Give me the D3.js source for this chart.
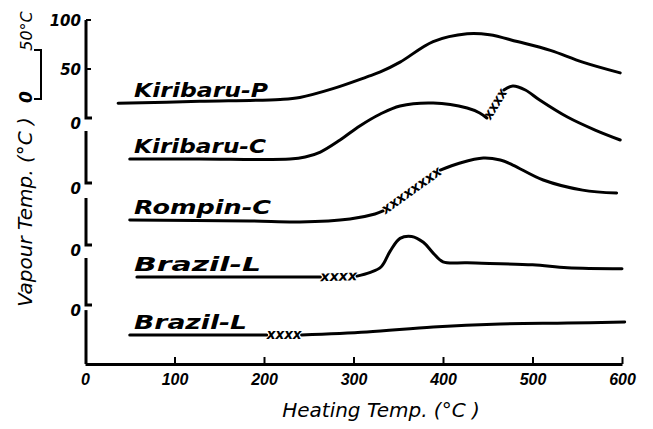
<!DOCTYPE html>
<html>
<head>
<meta charset="utf-8">
<style>
  body { margin: 0; background: white; }
  svg { display: block; background: white; font-family: 'DejaVu Sans', sans-serif; }
  .curve { fill: none; stroke: #000; stroke-width: 3; stroke-linecap: round; stroke-linejoin: round; }
  .axis-line { fill: none; stroke: #000; stroke-width: 3; stroke-linecap: butt; }
  .thin { fill: none; stroke: #000; stroke-width: 2; }
  .hand { font-style: italic; fill: #000; }
</style>
</head>
<body>
<div id="chart"></div>
<script src="https://d3js.org/d3.v7.min.js"></script>
<script>

// x axis ticks (heating temp, °C)
var heatingTicks = [0, 100, 200, 300, 400, 500, 600];

var seriesNames = ["Kiribaru-P", "Kiribaru-C", "Rompin-C", "Brazil-L", "Brazil-L"];

// [heating temp, vapour temp above the panel's own zero]
var kiribaruP = [[37,15],[128,17],[218,19],[240,21],[277,30],[315,42],[330,47],[352,57],
                 [389,78],[427,86],[452,85],[483,78],[520,69],[556,57],[598,46]];
var kiribaruC = [[50,24.5],[128,24.5],[229,24.5],[246,26.5],[263,31.6],[285,43.9],[307,58.2],
                 [330,70.4],[352,78.6],[389,81.6],[427,76.5],[441,71.4],[449,66.3],
                 [468,94.9],[478,99],[492,94.9],[508,84.7],[539,67.3],[570,54],[598,43.9]];
var rompinC   = [[50,25.5],[184,24.5],[240,23.5],[296,26.5],[324,31.6],[333,34.7],
                 [397,76.5],[419,83.7],[445,88.8],[464,86.7],[478,81.6],[512,66.3],[556,56],[594,53]];
var brazilL1  = [[58,28.6],[184,28.6],[263,28.6],[304,29.5],[318,33],[331,39],[341,55],
                 [352,68],[365,70],[378,64],[389,53],[400,44],[427,43],[500,41],[539,38],[600,37]];
var brazilL2  = [[50,29.6],[203,29.6],[242,29.6],[315,32.7],[389,37.8],[464,40.8],[539,41.8],[603,42.9]];

var seriesData = [kiribaruP, kiribaruC, rompinC, brazilL1, brazilL2];

// portions of each curve drawn as a row of crosses [from, to] heating temp
var crossedRanges = [null, [449, 468], [333, 397], [263, 304], [203, 242]];

// vapour-temp tick labels for each panel
var panelTicks = [[0, 50, 100], [0], [0], [0], []];

// ---- layout
var width = 653, height = 429;
var panelZero = [118, 183, 245, 305, 364];
var panelTop  = [100, 53, 48, 48, 55];
var pxPerDeg = 0.98;
var axisX = 86;

var svg = d3.select("#chart").append("svg")
    .attr("width", width)
    .attr("height", height);

var x = d3.scaleLinear().domain([0, 600]).range([85, 622]);

var yScales = panelZero.map(function(z) {
  return d3.scaleLinear().domain([0, 100]).range([z, z - 100 * pxPerDeg]);
});

// x axis
var xAxis = svg.append("g")
    .attr("transform", "translate(0," + panelZero[4] + ")")
    .call(d3.axisBottom(x).tickValues(heatingTicks).tickSizeInner(-7).tickSizeOuter(0).tickPadding(9));
xAxis.select(".domain").attr("stroke-width", 3);
xAxis.selectAll(".tick line").attr("stroke-width", 2);
xAxis.selectAll(".tick").filter(function(d) { return d === 0; }).select("line").remove();
xAxis.selectAll(".tick text")
    .attr("class", "hand")
    .style("font-size", "16px")
    .style("font-weight", "bold")
    .attr("dy", "0.72em");

svg.append("text")
    .attr("class", "hand")
    .attr("x", 381)
    .attr("y", 417)
    .attr("text-anchor", "middle")
    .style("font-size", "20px")
    .text("Heating Temp. (°C )");

// y axis, one segment per panel
yScales.forEach(function(y, i) {
  var top = panelTop[i];
  var path = "M" + axisX + "," + y(top) + "V" + y(0);
  if (i < 4) path += "H" + (axisX + 6);
  svg.append("path").attr("class", "axis-line").attr("d", path);

  panelTicks[i].forEach(function(t) {
    if (t > 0) {
      svg.append("line").attr("class", "thin")
        .attr("x1", axisX).attr("x2", axisX + 5)
        .attr("y1", y(t)).attr("y2", y(t));
    }
    svg.append("text")
      .attr("class", "hand")
      .attr("x", axisX - 5)
      .attr("y", y(t) + (t === 0 ? 11 : 6))
      .attr("text-anchor", "end")
      .style("font-size", "15px")
      .style("font-weight", "bold")
      .text(t);
  });
});

// y axis title with the 50°C scale bar
var ylab = svg.append("g").attr("transform", "translate(32,0) rotate(-90)");
ylab.append("text")
    .attr("class", "hand")
    .attr("x", -212).attr("y", 0)
    .attr("text-anchor", "middle")
    .style("font-size", "20px")
    .text("Vapour Temp. (°C )");
ylab.append("text")
    .attr("class", "hand")
    .attr("x", -97).attr("y", 0)
    .attr("text-anchor", "middle")
    .style("font-size", "17px")
    .style("font-weight", "bold")
    .text("0");
ylab.append("text")
    .attr("class", "hand")
    .attr("x", -31).attr("y", 0)
    .attr("text-anchor", "middle")
    .style("font-size", "16px")
    .text("50°C");
var bar = d3.scaleLinear().domain([0, 50]).range([99, 99 - 50 * pxPerDeg]);
svg.append("path")
    .attr("class", "thin")
    .attr("d", "M34," + bar(0) + "H41V" + bar(50) + "H34");

// curves
var line = d3.line()
    .x(function(d) { return x(d[0]); })
    .curve(d3.curveCatmullRom.alpha(0.5));

var labelWidths = [134, 132, 137, 127, 113];

seriesData.forEach(function(pts, i) {
  var y = yScales[i];
  line.y(function(d) { return y(d[1]); });
  var r = crossedRanges[i];
  var parts = r ? [pts.filter(function(p) { return p[0] <= r[0]; }),
                   pts.filter(function(p) { return p[0] >= r[1]; })] : [pts];
  parts.forEach(function(part) {
    svg.append("path").attr("class", "curve").attr("d", line(part));
  });

  if (r) {
    var a = pts.find(function(p) { return p[0] === r[0]; });
    var b = pts.find(function(p) { return p[0] === r[1]; });
    var id = "cross" + i;
    var cp = svg.append("path")
        .attr("id", id)
        .attr("fill", "none")
        .attr("d", "M" + x(a[0]) + "," + y(a[1]) + "L" + x(b[0]) + "," + y(b[1]));
    var len = cp.node().getTotalLength();
    var n = Math.max(3, Math.round(len / 9));
    svg.append("text")
        .attr("class", "hand")
        .attr("dy", "0.3em")
        .style("font-size", "14px")
        .style("font-weight", "bold")
      .append("textPath")
        .attr("href", "#" + id)
        .attr("textLength", len)
        .attr("lengthAdjust", "spacingAndGlyphs")
        .text("x".repeat(n));
  }

  // series label sitting on the flat start of its curve
  svg.append("text")
      .attr("class", "hand")
      .attr("x", 134)
      .attr("y", y(pts[0][1]) - 6)
      .attr("textLength", labelWidths[i])
      .attr("lengthAdjust", "spacingAndGlyphs")
      .style("font-size", "19px")
      .style("font-weight", "bold")
      .text(seriesNames[i]);
});

</script>
</body>
</html>
